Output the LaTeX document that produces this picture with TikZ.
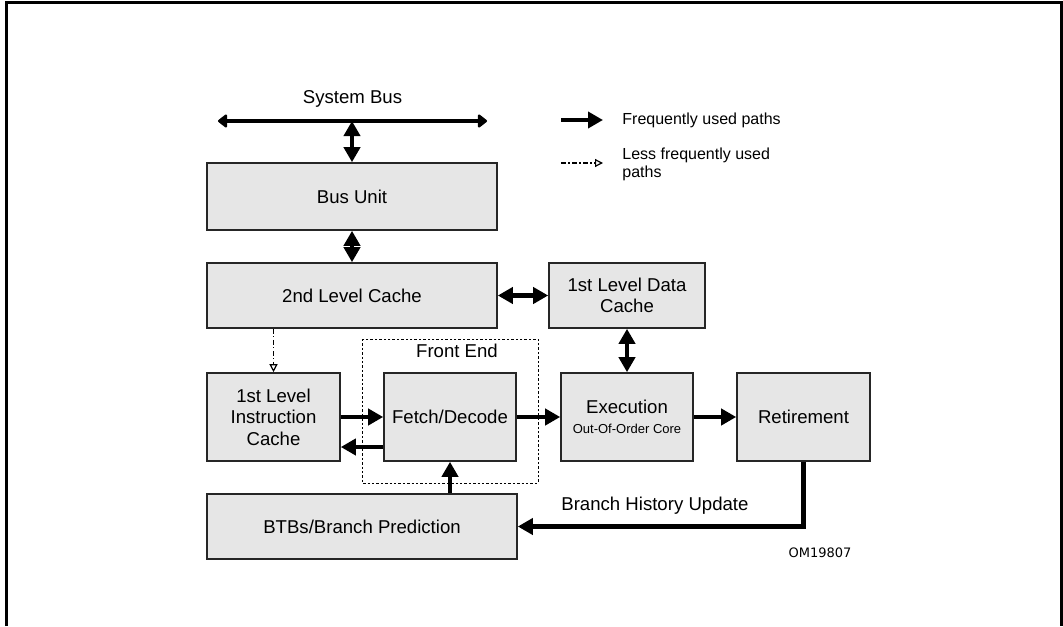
\documentclass[tikz,border=0pt]{standalone}
\usepackage{fontspec}
\setmainfont{Liberation Sans}
\newfontfamily\omfont{DejaVu Sans}
\usetikzlibrary{arrows.meta}
\definecolor{boxgray}{HTML}{E6E6E6}

\begin{document}
\begin{tikzpicture}[x=0.5pt,y=-0.5pt,
	box/.style={draw=black!85,line width=0.8pt,fill=boxgray,align=center,inner sep=0pt,font=\fontsize{9.3}{10.8}\selectfont},
	lbl/.style={inner sep=0pt,font=\fontsize{9.3}{10.8}\selectfont},
	fast/.style={line width=2.2pt,-{Triangle[length=7.5pt,width=8pt]}},
	fastboth/.style={line width=2.2pt,{Triangle[length=7.5pt,width=8pt]}-{Triangle[length=7.5pt,width=8pt]}},
	busline/.style={line width=2.4pt,{Triangle[round,length=5pt,width=7.5pt]}-{Triangle[round,length=5pt,width=7.5pt]}},
	slow/.style={line width=0.6pt,dash pattern=on 2.5pt off 1.2pt on 0.6pt off 1.2pt,-{Triangle[open,length=4pt,width=4pt]}}]
			\useasboundingbox (0,0) rectangle (1063,626);
			% frame, open at the bottom
			\draw[line width=1.5pt] (6,626) -- (6,3) -- (1061,3) -- (1061,626);
			% system bus
			\coordinate (busL) at (218,121);
			\coordinate (busR) at (487,121);
			\coordinate (busC) at (352,121);
			\draw[busline] (busL) -- node[lbl,above=5.5pt] {System Bus} (busR);
			% boxes
			\node[box,minimum width=145pt,minimum height=33.5pt] (busunit) at (352,196.5) {Bus Unit};
			\node[box,minimum width=145pt,minimum height=32.5pt] (ltwo) at (352,295.5) {2nd Level Cache};
			\node[box,minimum width=78pt,minimum height=32.5pt] (ldata) at (627,295.5) {1st Level Data\\Cache};
			\node[box,minimum width=66.5pt,minimum height=44pt] (icache) at (273.5,417) {1st Level\\Instruction\\Cache};
			\node[box,minimum width=66pt,minimum height=44pt] (fetch) at (450,417) {Fetch/Decode};
			\node[box,minimum width=66pt,minimum height=44pt] (exec) at (627,417) {Execution\\[-1pt]{\fontsize{6.5}{8}\selectfont Out-Of-Order Core}};
			\node[box,minimum width=66.5pt,minimum height=44pt] (retire) at (803.5,417) {Retirement};
			\node[box,minimum width=155pt,minimum height=32.5pt] (btb) at (362,526.5) {BTBs/Branch Prediction};
			% front end
			\draw[dash pattern=on 1.2pt off 1pt,line width=0.5pt] (362,339) rectangle (538,483);
			\node[lbl] (frontend) at (457,351) {Front End};
			% paths
			\draw[fastboth] (busC) -- (busunit);
			\draw[fastboth] (busunit) -- (ltwo);
			\draw[fastboth] (ltwo) -- (ldata);
			\draw[fastboth] (ldata) -- (exec);
			\draw[slow] (ltwo.south -| icache.north) -- (icache.north);
			\draw[fast] (icache) -- (fetch);
			\draw[fast] ([yshift=-15pt]fetch.west) -- ([yshift=-15pt]icache.east);
			\draw[fast] (fetch) -- (exec);
			\draw[fast] (exec) -- (retire);
			\draw[fast] (btb.north -| fetch.south) -- (fetch.south);
			\draw[fast] (retire) |- node[lbl,pos=0.76,above=5pt] {Branch History Update} (btb);
			% legend
			\coordinate (fastA) at (561,120);
			\coordinate (fastB) at (603,120);
			\coordinate (slowA) at (561,163);
			\coordinate (slowB) at (603,163);
			\draw[fast] (fastA) -- (fastB);
			\draw[slow] (slowA) -- (slowB);
			\node[anchor=west,inner sep=0pt,font=\fontsize{8}{9}\selectfont] (fastlbl) at (622,120) {Frequently used paths};
			\node[anchor=west,inner sep=0pt,align=left,font=\fontsize{8}{9}\selectfont] (slowlbl) at (622,164) {Less frequently used\\paths};
			\node[inner sep=0pt,font=\omfont\fontsize{6.5}{8}\selectfont] (om) at (820,553) {OM19807};
\end{tikzpicture}
\end{document}
